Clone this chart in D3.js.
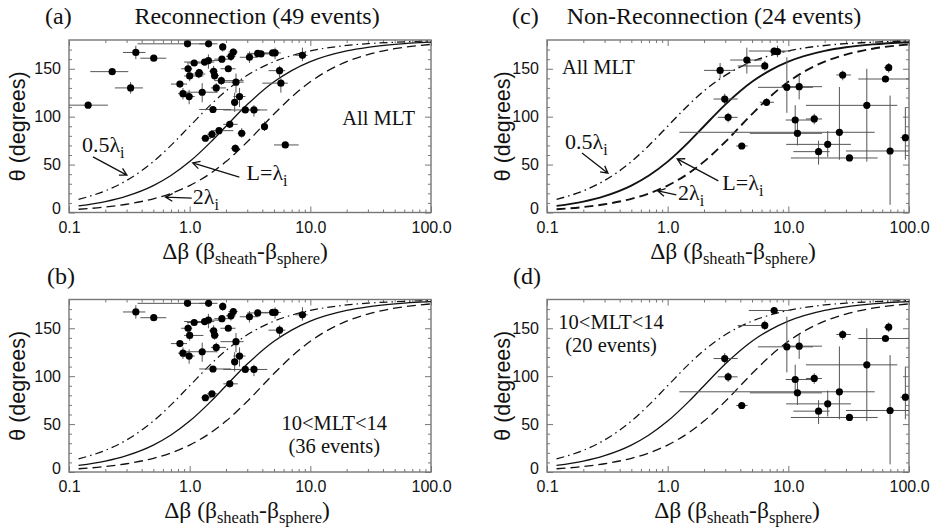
<!DOCTYPE html>
<html>
<head>
<meta charset="utf-8">
<script src="https://cdn.jsdelivr.net/npm/d3@7"></script>
<style>
  body { margin: 0; background: #fff; }
  text { font-family: "Liberation Serif", "Times New Roman", serif; fill: #111; }
  .tick text { font-family: "Liberation Sans", Arial, sans-serif; font-size: 16px; fill: #111; }
  .ylab { font-family: "Liberation Sans", Arial, sans-serif; font-size: 21.5px; }
</style>
</head>
<body>
<svg id="fig" width="931" height="528"></svg>
<script>
// axis ticks
var xMajor = [0.1, 1, 10, 100];
var xMajorLabels = ["0.1", "1.0", "10.0", "100.0"];
var yMajor = [0, 50, 100, 150];

// model curves theta(dBeta) for L = 0.5, 1, 2 lambda_i
var curveDb   = [0.12, 0.2, 0.3, 0.5, 0.7, 1, 1.5, 2, 3, 5, 7, 10, 20, 30, 50, 100];
var curveHalf = [13.7, 22.6, 33.4, 53.1, 70.0, 90.0, 112.6, 126.9, 143.1, 157.4, 163.7, 168.6, 174.3, 176.2, 177.7, 178.9];
var curveOne  = [6.9, 11.4, 17.1, 28.1, 38.6, 53.1, 73.7, 90.0, 112.6, 136.4, 148.1, 157.4, 168.6, 172.4, 175.4, 177.7];
var curveTwo  = [3.4, 5.7, 8.6, 14.3, 19.9, 28.1, 41.1, 53.1, 73.7, 102.7, 120.5, 136.4, 157.4, 164.8, 170.9, 175.4];

// reconnection events (49); mlt = 1 when 10<MLT<14
var recDb    = [0.144, 0.228, 0.324, 0.358, 0.504, 0.96, 0.83, 0.88, 0.99, 0.97, 1.0, 1.09, 1.19, 1.27, 1.33, 1.43, 1.435, 1.58, 1.61, 1.66, 1.83, 1.85, 1.88, 2.09, 2.2, 2.3, 2.42, 2.59, 2.36, 1.56, 2.89, 3.41, 3.13, 3.66, 3.9, 4.87, 5.1, 8.6, 5.56, 5.7, 2.15, 1.75, 1.53, 1.35, 2.7, 4.17, 2.39, 6.2, 1.2];
var recTh    = [112, 147, 130, 167, 161, 176, 134, 124, 121, 150, 142.5, 156, 144.5, 125.5, 157, 158.5, 176, 147.4, 142.8, 130, 137.6, 160, 172.8, 150, 163, 167.5, 136, 121, 115, 107.5, 107, 107, 162, 166, 165.5, 166.5, 166.5, 164, 148, 135, 92, 85.4, 81.6, 77.5, 82.7, 89.6, 67, 70.5, 146];
var recDbLo  = [0.10, 0.15, 0.24, 0.28, 0.39, 0.37, 0.70, 0.80, 0.90, 0.85, 0.90, 0.95, 1.05, 0.85, 0.90, 1.30, 1.20, 1.45, 1.50, 1.50, 1.60, 1.60, 1.75, 1.80, 2.00, 2.10, 1.80, 2.30, 2.20, 1.20, 1.90, 3.00, 2.60, 3.00, 3.20, 3.60, 4.50, 7.50, 4.50, 4.00, 1.90, 1.50, 1.40, 1.25, 2.50, 4.00, 2.20, 5.00, 1.10];
var recDbHi  = [0.21, 0.31, 0.41, 0.43, 0.64, 1.45, 0.95, 1.00, 1.10, 1.05, 1.30, 1.30, 1.35, 1.70, 1.60, 1.90, 1.70, 1.70, 1.75, 2.00, 2.80, 2.20, 2.00, 2.40, 2.40, 2.50, 2.80, 2.90, 2.50, 2.20, 3.80, 4.40, 3.70, 4.50, 4.70, 5.50, 5.70, 9.50, 6.20, 6.50, 2.50, 2.30, 1.70, 1.50, 2.90, 4.40, 2.60, 8.00, 1.30];
var recThLo  = [112, 147, 124, 160, 161, 176, 134, 118, 113, 145, 137, 156, 140, 115, 157, 150, 176, 140, 138, 125, 133, 160, 168, 150, 158, 164, 125, 110, 105, 107.5, 107, 100, 156, 166, 165.5, 166.5, 160, 158, 140, 125, 92, 85.4, 81.6, 77.5, 78, 85, 63, 70.5, 146];
var recThHi  = [112, 147, 136, 174, 161, 176, 134, 130, 128, 155, 148, 156, 150, 135, 157, 165, 176, 153, 147, 135, 142, 160, 177, 150, 168, 171, 145, 130, 125, 107.5, 107, 112, 168, 166, 165.5, 166.5, 172, 172, 153, 140, 92, 85.4, 81.6, 77.5, 88, 95, 71, 70.5, 146];
var recMlt   = [0, 0, 0, 1, 1, 1, 1, 1, 1, 1, 1, 1, 0, 1, 1, 1, 1, 1, 1, 1, 0, 1, 1, 1, 1, 1, 1, 1, 1, 1, 1, 1, 1, 1, 0, 1, 1, 1, 1, 0, 1, 0, 1, 1, 0, 0, 0, 0, 0];

// non-reconnection events (24)
var nonDb    = [7.63, 6.38, 2.97, 3.17, 4.11, 9.72, 12.3, 11.4, 11.9, 16.4, 17.8, 21.2, 26.5, 28.2, 32.1, 44.7, 63.8, 67.9, 69.7, 93.3, 2.72, 4.53, 8.13, 6.6];
var nonTh    = [168.5, 152.9, 118.4, 99.3, 69.4, 130.6, 131.3, 96.5, 82.6, 97.6, 63.5, 71.1, 83.7, 143.5, 56.9, 111.8, 139.3, 151.1, 64.2, 78.1, 148.3, 159.1, 167.8, 115];
var nonDbLo  = [4.7, 3.8, 2.4, 2.6, 3.7, 5.6, 9.5, 9.5, 4.8, 14, 11, 9.6, 1.25, 25, 10.5, 14, 38, 62, 30, 85, 2.0, 3.3, 7.0, 5.8];
var nonDbHi  = [10.5, 6.6, 3.8, 3.8, 4.6, 16, 19, 17, 19, 19, 22, 33, 52, 33, 55, 80, 100, 72, 100, 100, 3.6, 6.0, 9.5, 7.6];
var nonThLo  = [165, 148, 113, 94, 69.4, 104, 118, 80, 70, 92, 50, 58, 55, 138, 56.9, 53, 139.3, 146, 8, 55, 140, 145, 162, 115];
var nonThHi  = [172, 158, 124, 104, 69.4, 162, 143, 112, 95, 103, 75, 85, 131, 148, 56.9, 150, 139.3, 156, 122, 110, 156, 172, 174, 115];
var nonMlt   = [1, 1, 1, 1, 1, 1, 1, 1, 1, 1, 1, 1, 1, 1, 1, 1, 1, 1, 1, 1, 0, 0, 0, 0];

function events(db, th, lo, hi, tlo, thi, mlt) {
  return db.map(function(d, i) {
    return { db: d, th: th[i], lo: lo[i], hi: hi[i], tlo: tlo[i], thi: thi[i], mlt: mlt[i] };
  });
}
var rec = events(recDb, recTh, recDbLo, recDbHi, recThLo, recThHi, recMlt);
var non = events(nonDb, nonTh, nonDbLo, nonDbHi, nonThLo, nonThHi, nonMlt);

var svg = d3.select("#fig");
var plotW = 362, plotH = 172.5;

var panels = [
  { tag: "(a)", tagX: -24, title: "Reconnection (49 events)", titleX: 188, left: 69, top: 40, data: rec,
    bold: false, ylabX: -44, xlabX: 176,
    notes: [{ t: "All MLT", db: 18.4, th: 91 }], arrows: "a" },
  { tag: "(b)", tagX: -22, title: "", left: 69, top: 299.5, data: rec.filter(function(d) { return d.mlt; }),
    bold: false, ylabX: -44, xlabX: 178,
    notes: [{ t: "10<MLT<14", db: 15.8, th: 43.5, mid: true }, { t: "(36 events)", db: 15.8, th: 20, mid: true }] },
  { tag: "(c)", tagX: -35, title: "Non-Reconnection (24 events)", titleX: 167, left: 547, top: 40, data: non,
    bold: true, ylabX: -37, xlabX: 186,
    notes: [{ t: "All MLT", db: 0.133, th: 144.6 }], arrows: "c" },
  { tag: "(d)", tagX: -34, title: "", left: 547, top: 299.5, data: non.filter(function(d) { return d.mlt; }),
    bold: false, ylabX: -37, xlabX: 190,
    notes: [{ t: "10<MLT<14", db: 0.34, th: 149, mid: true }, { t: "(20 events)", db: 0.34, th: 125, mid: true }] }
];

var arrowSets = {
  a: [
    { lab: "0.5λ", db: 0.128, th: 63, from: [0.158, 58], to: [0.302, 39] },
    { lab: "L=λ", db: 2.96, th: 34, from: [2.58, 37], to: [1.06, 51.7] },
    { lab: "2λ", db: 1.06, th: 9, from: [1.04, 15], to: [0.63, 16] }
  ],
  c: [
    { lab: "0.5λ", db: 0.141, th: 66, from: [0.195, 62], to: [0.32, 41] },
    { lab: "L=λ", db: 2.84, th: 23.5, from: [2.63, 33], to: [1.2, 56] },
    { lab: "2λ", db: 1.22, th: 13, from: [1.18, 18.3], to: [0.83, 22.5] }
  ]
};

panels.forEach(function(p, pi) {
  var x = d3.scaleLog().domain([0.1, 100]).range([0, plotW]);
  var y = d3.scaleLinear().domain([0, 180]).range([plotH, 0]);

  var g = svg.append("g").attr("transform", "translate(" + p.left + "," + p.top + ")");

  g.append("clipPath").attr("id", "clip" + pi)
    .append("rect").attr("width", plotW).attr("height", plotH);

  // minor + major ticks on all four sides
  var xMinor = x.ticks().filter(function(v) { return xMajor.indexOf(v) < 0; });
  var yMinor = d3.range(10, 180, 10).filter(function(v) { return v % 50 !== 0; });

  function tickAxis(axis, vals, size, tr) {
    var a = g.append("g").attr("transform", tr || null)
      .call(axis.tickValues(vals).tickSize(size).tickFormat(""));
    a.select(".domain").remove();
    a.selectAll("line").attr("stroke", "#777").attr("stroke-width", 1);
    return a;
  }
  tickAxis(d3.axisBottom(x), xMinor, -3, "translate(0," + plotH + ")");
  tickAxis(d3.axisTop(x), xMinor, -3);
  tickAxis(d3.axisLeft(y), yMinor, -3);
  tickAxis(d3.axisRight(y), yMinor, -3, "translate(" + plotW + ",0)");
  tickAxis(d3.axisTop(x), xMajor, -6);
  tickAxis(d3.axisRight(y), yMajor, -6, "translate(" + plotW + ",0)");

  var xa = g.append("g").attr("transform", "translate(0," + plotH + ")")
    .call(d3.axisBottom(x).tickValues(xMajor).tickSize(-6).tickPadding(9)
      .tickFormat(function(d, i) { return xMajorLabels[i]; }));
  xa.select(".domain").remove();
  xa.selectAll("line").attr("stroke", "#777");

  var ya = g.append("g")
    .call(d3.axisLeft(y).tickValues(yMajor).tickSize(-6).tickPadding(8));
  ya.select(".domain").remove();
  ya.selectAll("line").attr("stroke", "#777");
  ya.selectAll(".tick").filter(function(d) { return d === 0; })
    .select("text").attr("transform", "translate(0,-4)");

  g.append("rect").attr("width", plotW).attr("height", plotH)
    .attr("fill", "none").attr("stroke", "#777").attr("stroke-width", 1.4);

  // model curves
  var line = d3.line()
    .x(function(d, i) { return x(curveDb[i]); })
    .y(function(d) { return y(d); })
    .curve(d3.curveMonotoneX);
  var sw = p.bold ? 1.9 : 1.3;
  g.append("path").attr("d", line(curveHalf)).attr("fill", "none")
    .attr("stroke", "#111").attr("stroke-width", p.bold ? 1.4 : 1.2).attr("stroke-dasharray", "8,4,1.5,4");
  g.append("path").attr("d", line(curveOne)).attr("fill", "none")
    .attr("stroke", "#111").attr("stroke-width", sw);
  g.append("path").attr("d", line(curveTwo)).attr("fill", "none")
    .attr("stroke", "#111").attr("stroke-width", sw).attr("stroke-dasharray", "9,5");

  // error bars and points
  var pts = g.append("g").attr("clip-path", "url(#clip" + pi + ")");
  pts.selectAll(".ex").data(p.data).enter().append("line")
    .attr("x1", function(d) { return x(d.lo); })
    .attr("x2", function(d) { return x(d.hi); })
    .attr("y1", function(d) { return y(d.th); })
    .attr("y2", function(d) { return y(d.th); })
    .attr("stroke", "#555").attr("stroke-width", 1);
  pts.selectAll(".ey").data(p.data.filter(function(d) { return d.thi > d.tlo; })).enter().append("line")
    .attr("x1", function(d) { return x(d.db); })
    .attr("x2", function(d) { return x(d.db); })
    .attr("y1", function(d) { return y(d.tlo); })
    .attr("y2", function(d) { return y(d.thi); })
    .attr("stroke", "#555").attr("stroke-width", 1);
  pts.selectAll("circle").data(p.data).enter().append("circle")
    .attr("cx", function(d) { return x(d.db); })
    .attr("cy", function(d) { return y(d.th); })
    .attr("r", 3.6).attr("fill", "#000");

  // labels
  g.append("text").attr("x", p.tagX).attr("y", -16).style("font-size", "24px").text(p.tag);
  if (p.title) {
    g.append("text").attr("x", p.titleX).attr("y", -16)
      .attr("text-anchor", "middle").style("font-size", "24px").text(p.title);
  }
  g.append("text").attr("class", "ylab")
    .attr("transform", "translate(" + p.ylabX + "," + (plotH / 2) + ") rotate(-90)")
    .attr("text-anchor", "middle").text("θ (degrees)");

  var xl = g.append("text").attr("x", p.xlabX).attr("y", plotH + 46)
    .attr("text-anchor", "middle").style("font-size", "23.5px");
  xl.append("tspan").text("Δβ (β");
  xl.append("tspan").attr("dy", 5).style("font-size", "16.5px").text("sheath");
  xl.append("tspan").attr("dy", -5).text("-β");
  xl.append("tspan").attr("dy", 5).style("font-size", "16.5px").text("sphere");
  xl.append("tspan").attr("dy", -5).text(")");

  p.notes.forEach(function(n) {
    g.append("text").attr("x", x(n.db)).attr("y", y(n.th))
      .attr("text-anchor", n.mid ? "middle" : "start")
      .style("font-size", "20.5px").text(n.t);
  });

  if (p.arrows) {
    arrowSets[p.arrows].forEach(function(a) {
      var t = g.append("text").attr("x", x(a.db)).attr("y", y(a.th)).style("font-size", "22px");
      t.append("tspan").text(a.lab);
      t.append("tspan").attr("dy", 6).style("font-size", "16px").text("i");
      var x1 = x(a.from[0]), y1 = y(a.from[1]), x2 = x(a.to[0]), y2 = y(a.to[1]);
      var ang = Math.atan2(y2 - y1, x2 - x1), h = 8;
      var path = "M" + x1 + "," + y1 + "L" + x2 + "," + y2 +
        "M" + (x2 - h * Math.cos(ang - 0.5)) + "," + (y2 - h * Math.sin(ang - 0.5)) +
        "L" + x2 + "," + y2 +
        "L" + (x2 - h * Math.cos(ang + 0.5)) + "," + (y2 - h * Math.sin(ang + 0.5));
      g.append("path").attr("d", path).attr("fill", "none")
        .attr("stroke", "#111").attr("stroke-width", 1.3);
    });
  }
});
</script>
</body>
</html>
